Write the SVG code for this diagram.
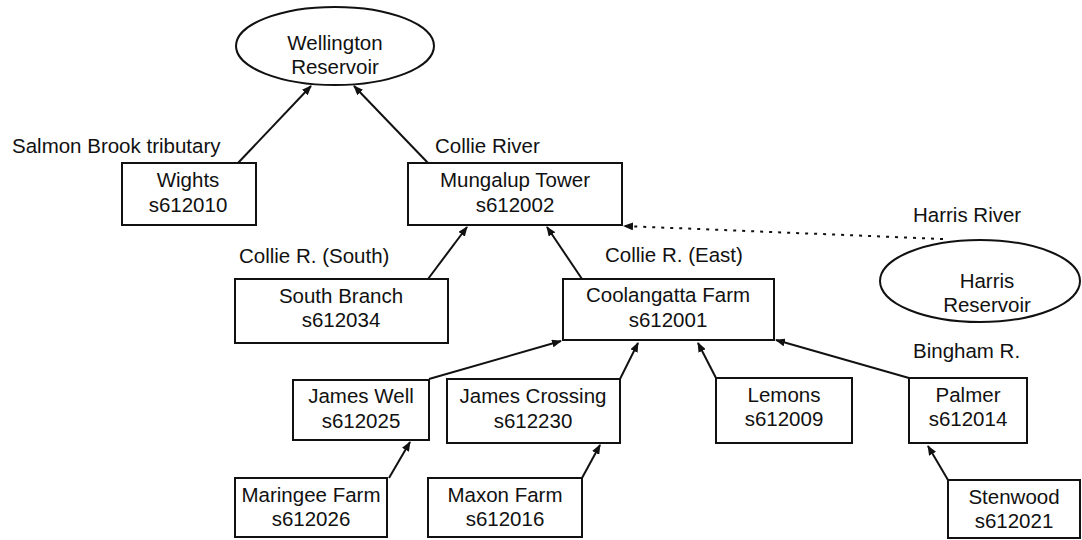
<svg xmlns="http://www.w3.org/2000/svg" width="1082" height="540" viewBox="0 0 1082 540">
<style>
text{font-family:"Liberation Sans",Arial,sans-serif;font-size:20.5px;fill:#111;}
.c{text-anchor:middle;}
.box{fill:#fff;stroke:#111;stroke-width:2;}
.ell{fill:#fff;stroke:#111;stroke-width:2;}
.e{stroke:#111;stroke-width:2;fill:none;marker-end:url(#ah);}
.d{stroke:#111;stroke-width:2;fill:none;stroke-dasharray:3 6;marker-end:url(#ah);}
</style>
<defs>
<marker id="ah" markerWidth="10" markerHeight="8" refX="9" refY="4" orient="auto" markerUnits="userSpaceOnUse">
<path d="M0,0 L10,4 L0,8 z" fill="#111"/>
</marker>
</defs>
<rect width="1082" height="540" fill="#fff"/>
<g id="connectors">
<line class="e" x1="238" y1="163" x2="311" y2="86"/>
<line class="e" x1="428" y1="163" x2="354" y2="86"/>
<line class="e" x1="428" y1="279" x2="467" y2="227"/>
<line class="e" x1="582" y1="279" x2="547" y2="227"/>
<line class="d" x1="943" y1="239" x2="624" y2="226"/>
<line class="e" x1="429" y1="379" x2="561" y2="341"/>
<line class="e" x1="620" y1="379" x2="638" y2="343"/>
<line class="e" x1="716" y1="378" x2="698" y2="343"/>
<line class="e" x1="909" y1="378" x2="776" y2="340"/>
<line class="e" x1="389" y1="478" x2="410" y2="442"/>
<line class="e" x1="582" y1="478" x2="600" y2="445"/>
<line class="e" x1="948" y1="480" x2="928" y2="446"/>
</g>
<g id="labels">
<text x="12" y="153">Salmon Brook tributary</text>
<text x="435" y="153">Collie River</text>
<text x="239" y="263">Collie R. (South)</text>
<text x="605" y="262">Collie R. (East)</text>
<text x="913" y="222">Harris River</text>
<text x="913" y="358">Bingham R.</text>
</g>
<g id="wellington"><ellipse class="ell" cx="335" cy="46" rx="99" ry="39"/><text class="c" x="335" y="50">Wellington</text><text class="c" x="335" y="74">Reservoir</text></g>
<g id="harris"><ellipse class="ell" cx="980" cy="281" rx="100" ry="41"/><text class="c" x="987" y="288">Harris</text><text class="c" x="987" y="312">Reservoir</text></g>
<g id="wights"><rect class="box" x="122" y="163" width="134" height="62"/><text class="c" x="188" y="187">Wights</text><text class="c" x="188" y="212">s612010</text></g>
<g id="mungalup"><rect class="box" x="408" y="163" width="214" height="62"/><text class="c" x="515" y="187">Mungalup Tower</text><text class="c" x="515" y="212">s612002</text></g>
<g id="southbranch"><rect class="box" x="235" y="279" width="213" height="64"/><text class="c" x="341" y="303">South Branch</text><text class="c" x="341" y="327">s612034</text></g>
<g id="coolangatta"><rect class="box" x="563" y="279" width="211" height="61"/><text class="c" x="668" y="302">Coolangatta Farm</text><text class="c" x="668" y="327">s612001</text></g>
<g id="jameswell"><rect class="box" x="293" y="380" width="136" height="60"/><text class="c" x="361" y="403">James Well</text><text class="c" x="361" y="428">s612025</text></g>
<g id="jamescrossing"><rect class="box" x="447" y="379" width="173" height="64"/><text class="c" x="533" y="403">James Crossing</text><text class="c" x="533" y="428">s612230</text></g>
<g id="lemons"><rect class="box" x="716" y="378" width="136" height="65"/><text class="c" x="784" y="402">Lemons</text><text class="c" x="784" y="426">s612009</text></g>
<g id="palmer"><rect class="box" x="909" y="378" width="118" height="65"/><text class="c" x="968" y="402">Palmer</text><text class="c" x="968" y="426">s612014</text></g>
<g id="maringee"><rect class="box" x="235" y="478" width="152" height="59"/><text class="c" x="311" y="502">Maringee Farm</text><text class="c" x="311" y="526">s612026</text></g>
<g id="maxon"><rect class="box" x="428" y="478" width="154" height="59"/><text class="c" x="505" y="502">Maxon Farm</text><text class="c" x="505" y="526">s612016</text></g>
<g id="stenwood"><rect class="box" x="948" y="480" width="132" height="58"/><text class="c" x="1014" y="504">Stenwood</text><text class="c" x="1014" y="528">s612021</text></g>
</svg>
